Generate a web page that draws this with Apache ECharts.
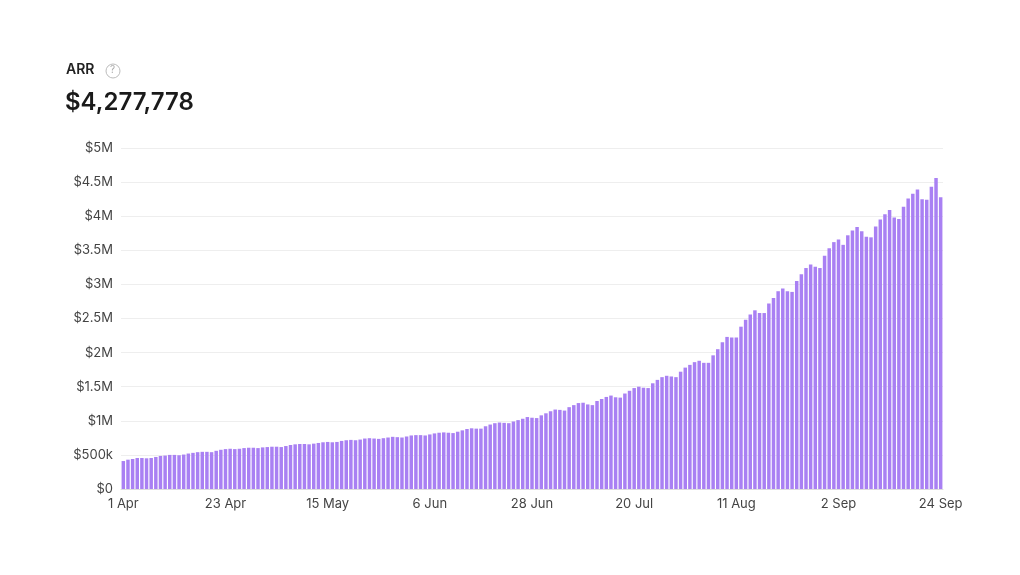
<!DOCTYPE html>
<html>
<head>
<meta charset="utf-8">
<script src="https://cdn.jsdelivr.net/npm/echarts@6/dist/echarts.min.js"></script>
<style>html,body{margin:0;background:#fff}#chart{width:1020px;height:575px}</style>
</head>
<body>
<div id="chart"></div>
<script>
// daily ARR in $k, 1 Apr .. 24 Sep
var apr = [410,430,440,455,455,450,455,470,485,490,500,500,495,505,520,530,540,545,545,540,560,575,585,590,585,590,600,605,605,600];
var may = [610,615,620,620,615,630,645,655,660,660,655,665,675,685,690,685,690,705,715,720,715,725,740,745,740,735,745,755,765,760,755];
var jun = [770,785,790,790,785,800,815,825,830,825,820,840,860,880,890,885,885,920,945,965,975,970,965,990,1010,1030,1055,1045,1040,1080];
var jul = [1110,1140,1165,1160,1150,1200,1230,1260,1265,1240,1230,1290,1320,1350,1370,1345,1340,1400,1440,1480,1500,1485,1480,1550,1600,1640,1660,1650,1640,1720,1780];
var aug = [1820,1860,1880,1850,1850,1960,2050,2150,2230,2220,2220,2380,2480,2560,2620,2580,2580,2720,2800,2900,2940,2900,2890,3050,3150,3240,3290,3260,3240,3420,3530];
var sep = [3620,3660,3580,3720,3790,3840,3780,3700,3690,3850,3950,4030,4090,3980,3960,4140,4260,4330,4390,4250,4240,4430,4560,4278];
var monthNames = ['Apr', 'May', 'Jun', 'Jul', 'Aug', 'Sep'];
var monthData = [apr, may, jun, jul, aug, sep];

var days = [];
var values = [];
monthData.forEach(function (m, mi) {
    m.forEach(function (v, di) {
        days.push((di + 1) + ' ' + monthNames[mi]);
        values.push(v * 1000);
    });
});

var myChart = echarts.init(document.getElementById('chart'));
myChart.setOption({
    animation: false,
    textStyle: {fontFamily: 'Inter'},
    graphic: [
        {type: 'text', left: 66, top: 63, style: {text: 'ARR', font: '600 14px Inter', fill: '#222'}},
        {type: 'circle', shape: {cx: 113, cy: 71, r: 7}, style: {fill: 'none', stroke: '#bbb', lineWidth: 1}},
        {type: 'text', left: 110, top: 65, style: {text: '?', font: '10px Inter', fill: '#aaa'}},
        {type: 'text', left: 65, top: 91, style: {text: '$4,277,778', font: '600 24px Inter', fill: '#1a1a1a'}}
    ],
    grid: {left: 121, right: 77, top: 148, bottom: 86},
    xAxis: {
        type: 'category',
        data: days,
        axisTick: {show: false},
        axisLine: {lineStyle: {color: '#ddd'}},
        axisLabel: {interval: 21, color: '#444', fontSize: 13, margin: 9}
    },
    yAxis: {
        type: 'value',
        min: 0,
        max: 5000000,
        interval: 500000,
        splitLine: {lineStyle: {color: '#eee'}},
        axisLabel: {
            color: '#444', fontSize: 13,
            formatter: function (v) {
                if (v === 0) return '$0';
                if (v < 1000000) return '$' + v / 1000 + 'k';
                return '$' + v / 1000000 + 'M';
            }
        }
    },
    series: [{
        type: 'bar',
        data: values,
        barCategoryGap: '25%',
        itemStyle: {color: '#a980f3'}
    }]
});
</script>
</body>
</html>
